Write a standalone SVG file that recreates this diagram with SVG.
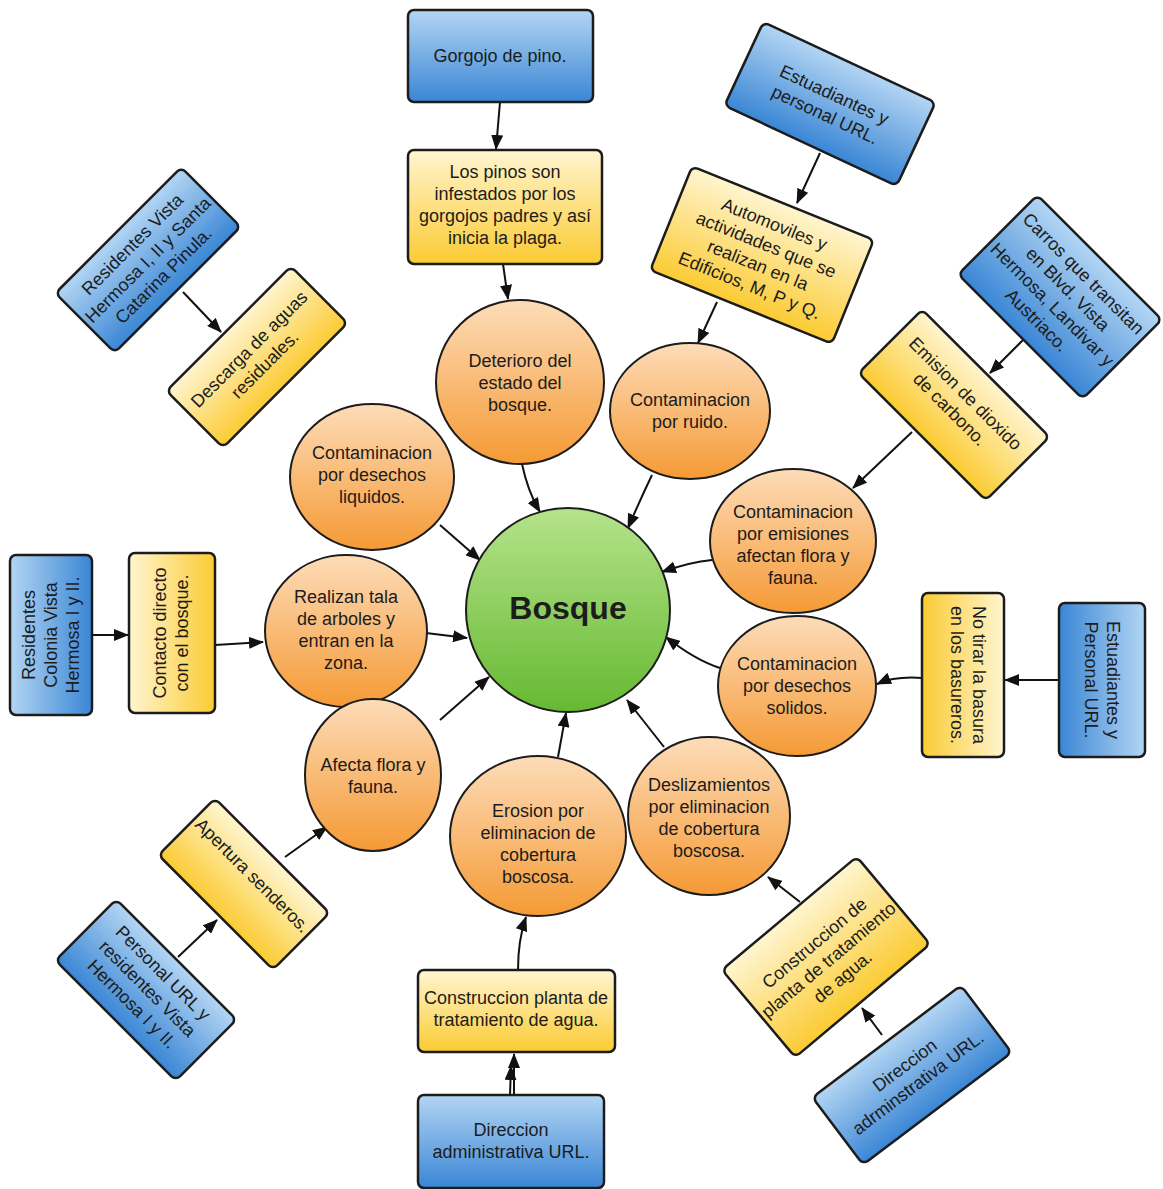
<svg xmlns="http://www.w3.org/2000/svg" width="1163" height="1189" viewBox="0 0 1163 1189">
<defs>
<linearGradient id="gBlue" x1="0" y1="0" x2="0" y2="1"><stop offset="0" stop-color="#b3d5f3"/><stop offset="1" stop-color="#3a86d5"/></linearGradient>
<linearGradient id="gYellow" x1="0" y1="0" x2="0" y2="1"><stop offset="0" stop-color="#fff5d0"/><stop offset="1" stop-color="#fbcb33"/></linearGradient>
<linearGradient id="gOrange" x1="0" y1="0" x2="0" y2="1"><stop offset="0" stop-color="#fddcb8"/><stop offset="1" stop-color="#f59a35"/></linearGradient>
<linearGradient id="gGreen" x1="0" y1="0" x2="0" y2="1"><stop offset="0" stop-color="#b5e38b"/><stop offset="1" stop-color="#66b932"/></linearGradient>
<marker id="arr" markerUnits="userSpaceOnUse" markerWidth="15" markerHeight="12" refX="14" refY="6" orient="auto" viewBox="0 0 15 12"><path d="M0,0 L15,6 L0,12 z" fill="#111"/></marker>
</defs>
<style>
.b{fill:url(#gBlue);stroke:#1c1c1c;stroke-width:2.5}
.y{fill:url(#gYellow);stroke:#1c1c1c;stroke-width:2.5}
.o{fill:url(#gOrange);stroke:#1c1c1c;stroke-width:2}
.g{fill:url(#gGreen);stroke:#1c1c1c;stroke-width:2}
text{font-family:"Liberation Sans",Arial,sans-serif;font-size:18px;fill:#1c1c1c;text-anchor:middle}
.big{font-size:32px;font-weight:bold}
.c path{fill:none;stroke:#111;stroke-width:2;marker-end:url(#arr)}
</style>
<rect width="1163" height="1189" fill="#ffffff"/>

<g class="c" id="connectors">
<path d="M500 102 L496 149"/>
<path d="M503 264 L508 299"/>
<path d="M522 464 Q528 492 540 512"/>
<path d="M652 475 Q640 500 628 528"/>
<path d="M440 525 L480 560"/>
<path d="M712 560 Q690 562 662 572"/>
<path d="M426 633 L467 638"/>
<path d="M720 668 Q695 660 666 637"/>
<path d="M440 720 L489 677"/>
<path d="M558 757 L566 713"/>
<path d="M664 747 L627 700"/>
<path d="M93 635 L128 635"/>
<path d="M215 645 L263 642"/>
<path d="M1059 680 L1005 680"/>
<path d="M922 678 Q895 676 877 684"/>
<path d="M514 1095 L514 1054"/>
<path d="M510 1095 L511 1066"/>
<path d="M518 970 Q518 940 526 917"/>
<path d="M183 292 L221 332"/>
<path d="M820 153 L797 203"/>
<path d="M717 302 L698 343"/>
<path d="M1023 340 L990 373"/>
<path d="M912 432 L853 488"/>
<path d="M178 957 L217 920"/>
<path d="M285 857 L327 827"/>
<path d="M882 1035 L862 1008"/>
<path d="M800 902 L768 877"/>
</g>

<g id="bosque"><circle class="g" cx="568" cy="610" r="102"/><text class="big" x="568" y="619">Bosque</text></g>

<g id="deterioro"><ellipse class="o" cx="520" cy="382" rx="84" ry="82"/><text x="520" y="367">Deterioro del</text><text x="520" y="389">estado del</text><text x="520" y="411">bosque.</text></g>
<g id="ruido"><ellipse class="o" cx="690" cy="411" rx="80" ry="68"/><text x="690" y="406">Contaminacion</text><text x="690" y="428">por ruido.</text></g>
<g id="liquidos"><ellipse class="o" cx="372" cy="477" rx="82" ry="73"/><text x="372" y="459">Contaminacion</text><text x="372" y="481">por desechos</text><text x="372" y="503">liquidos.</text></g>
<g id="emisiones"><ellipse class="o" cx="793" cy="541" rx="83" ry="72"/><text x="793" y="518">Contaminacion</text><text x="793" y="540">por emisiones</text><text x="793" y="562">afectan flora y</text><text x="793" y="584">fauna.</text></g>
<g id="tala"><ellipse class="o" cx="346" cy="631" rx="81" ry="76"/><text x="346" y="603">Realizan tala</text><text x="346" y="625">de arboles y</text><text x="346" y="647">entran en la</text><text x="346" y="669">zona.</text></g>
<g id="solidos"><ellipse class="o" cx="797" cy="686" rx="79" ry="70"/><text x="797" y="670">Contaminacion</text><text x="797" y="692">por desechos</text><text x="797" y="714">solidos.</text></g>
<g id="afecta"><ellipse class="o" cx="373" cy="775" rx="68" ry="76"/><text x="373" y="771">Afecta flora y</text><text x="373" y="793">fauna.</text></g>
<g id="erosion"><ellipse class="o" cx="538" cy="836" rx="88" ry="80"/><text x="538" y="817">Erosion por</text><text x="538" y="839">eliminacion de</text><text x="538" y="861">cobertura</text><text x="538" y="883">boscosa.</text></g>
<g id="deslizamientos"><ellipse class="o" cx="709" cy="816" rx="81" ry="79"/><text x="709" y="791">Deslizamientos</text><text x="709" y="813">por eliminacion</text><text x="709" y="835">de cobertura</text><text x="709" y="857">boscosa.</text></g>

<g id="gorgojo"><rect class="b" x="408" y="10" width="185" height="92" rx="6"/><text x="500" y="62">Gorgojo de pino.</text></g>
<g id="pinos"><rect class="y" x="408" y="150" width="194" height="114" rx="6"/><text x="505" y="178">Los pinos son</text><text x="505" y="200">infestados por los</text><text x="505" y="222">gorgojos padres y así</text><text x="505" y="244">inicia la plaga.</text></g>
<g id="construccion-planta"><rect class="y" x="418" y="970" width="197" height="82" rx="6"/><text x="516" y="1004">Construccion planta de</text><text x="516" y="1026">tratamiento de agua.</text></g>
<g id="direccion-adm"><rect class="b" x="418" y="1095" width="186" height="93" rx="6"/><text x="511" y="1136">Direccion</text><text x="511" y="1158">administrativa URL.</text></g>

<g id="residentes-colonia" transform="translate(51 635) rotate(-90)"><rect class="b" x="-80" y="-41" width="160" height="82" rx="6"/><text y="-16">Residentes</text><text y="6">Colonia Vista</text><text y="28">Hermosa I y II.</text></g>
<g id="contacto" transform="translate(172 633) rotate(-90)"><rect class="y" x="-80" y="-43" width="160" height="86" rx="6"/><text y="-6">Contacto directo</text><text y="16">con el bosque.</text></g>
<g id="no-tirar" transform="translate(963 675) rotate(90)"><rect class="y" x="-82" y="-41" width="164" height="82" rx="6"/><text y="-10">No tirar la basura</text><text y="12">en los basureros.</text></g>
<g id="estudiantes-personal" transform="translate(1102 680) rotate(90)"><rect class="b" x="-77" y="-43" width="154" height="86" rx="6"/><text y="-5">Estuadiantes y</text><text y="17">Personal URL.</text></g>

<g id="residentes-vista" transform="translate(148 260) rotate(-45)"><rect class="b" x="-89" y="-42" width="178" height="84" rx="6"/><text y="-16">Residentes Vista</text><text y="6">Hermosa I, II y Santa</text><text y="28">Catarina Pinula.</text></g>
<g id="descarga" transform="translate(257 357) rotate(-45)"><rect class="y" x="-88" y="-40" width="176" height="80" rx="6"/><text y="-5">Descarga de aguas</text><text y="17">residuales.</text></g>
<g id="estudiantes-url" transform="translate(830 104) rotate(25)"><rect class="b" x="-95" y="-46" width="190" height="92" rx="6"/><text y="-4">Estuadiantes y</text><text y="18">personal URL.</text></g>
<g id="automoviles" transform="translate(762 255) rotate(22)"><rect class="y" x="-98" y="-56" width="196" height="112" rx="6"/><text y="-27">Automoviles y</text><text y="-5">actividades que se</text><text y="17">realizan en la</text><text y="39">Edificios, M, P y Q.</text></g>
<g id="carros" transform="translate(1060 297) rotate(45)"><rect class="b" x="-88" y="-56" width="176" height="112" rx="6"/><text y="-27">Carros que transitan</text><text y="-5">en Blvd. Vista</text><text y="17">Hermosa, Landivar y</text><text y="39">Austriaco.</text></g>
<g id="emision" transform="translate(954 405) rotate(45)"><rect class="y" x="-90" y="-45" width="180" height="90" rx="6"/><text y="-10">Emision de dioxido</text><text y="12">de carbono.</text></g>
<g id="apertura" transform="translate(244 884) rotate(45)"><rect class="y" x="-81" y="-40" width="162" height="80" rx="6"/><text y="-6">Apertura senderos.</text></g>
<g id="personal-residentes" transform="translate(146 990) rotate(45)"><rect class="b" x="-85" y="-43" width="170" height="86" rx="6"/><text y="-18">Personal URL y</text><text y="4">residentes Vista</text><text y="26">Hermosa I y II.</text></g>
<g id="construccion-de-planta" transform="translate(826 957) rotate(-40)"><rect class="y" x="-88" y="-57" width="176" height="114" rx="6"/><text y="-12">Construccion de</text><text y="10">planta de tratamiento</text><text y="32">de agua.</text></g>
<g id="direccion-admr" transform="translate(912 1075) rotate(-37)"><rect class="b" x="-93" y="-42" width="186" height="84" rx="6"/><text y="-6">Direccion</text><text y="16">adrminstrativa URL.</text></g>
</svg>
